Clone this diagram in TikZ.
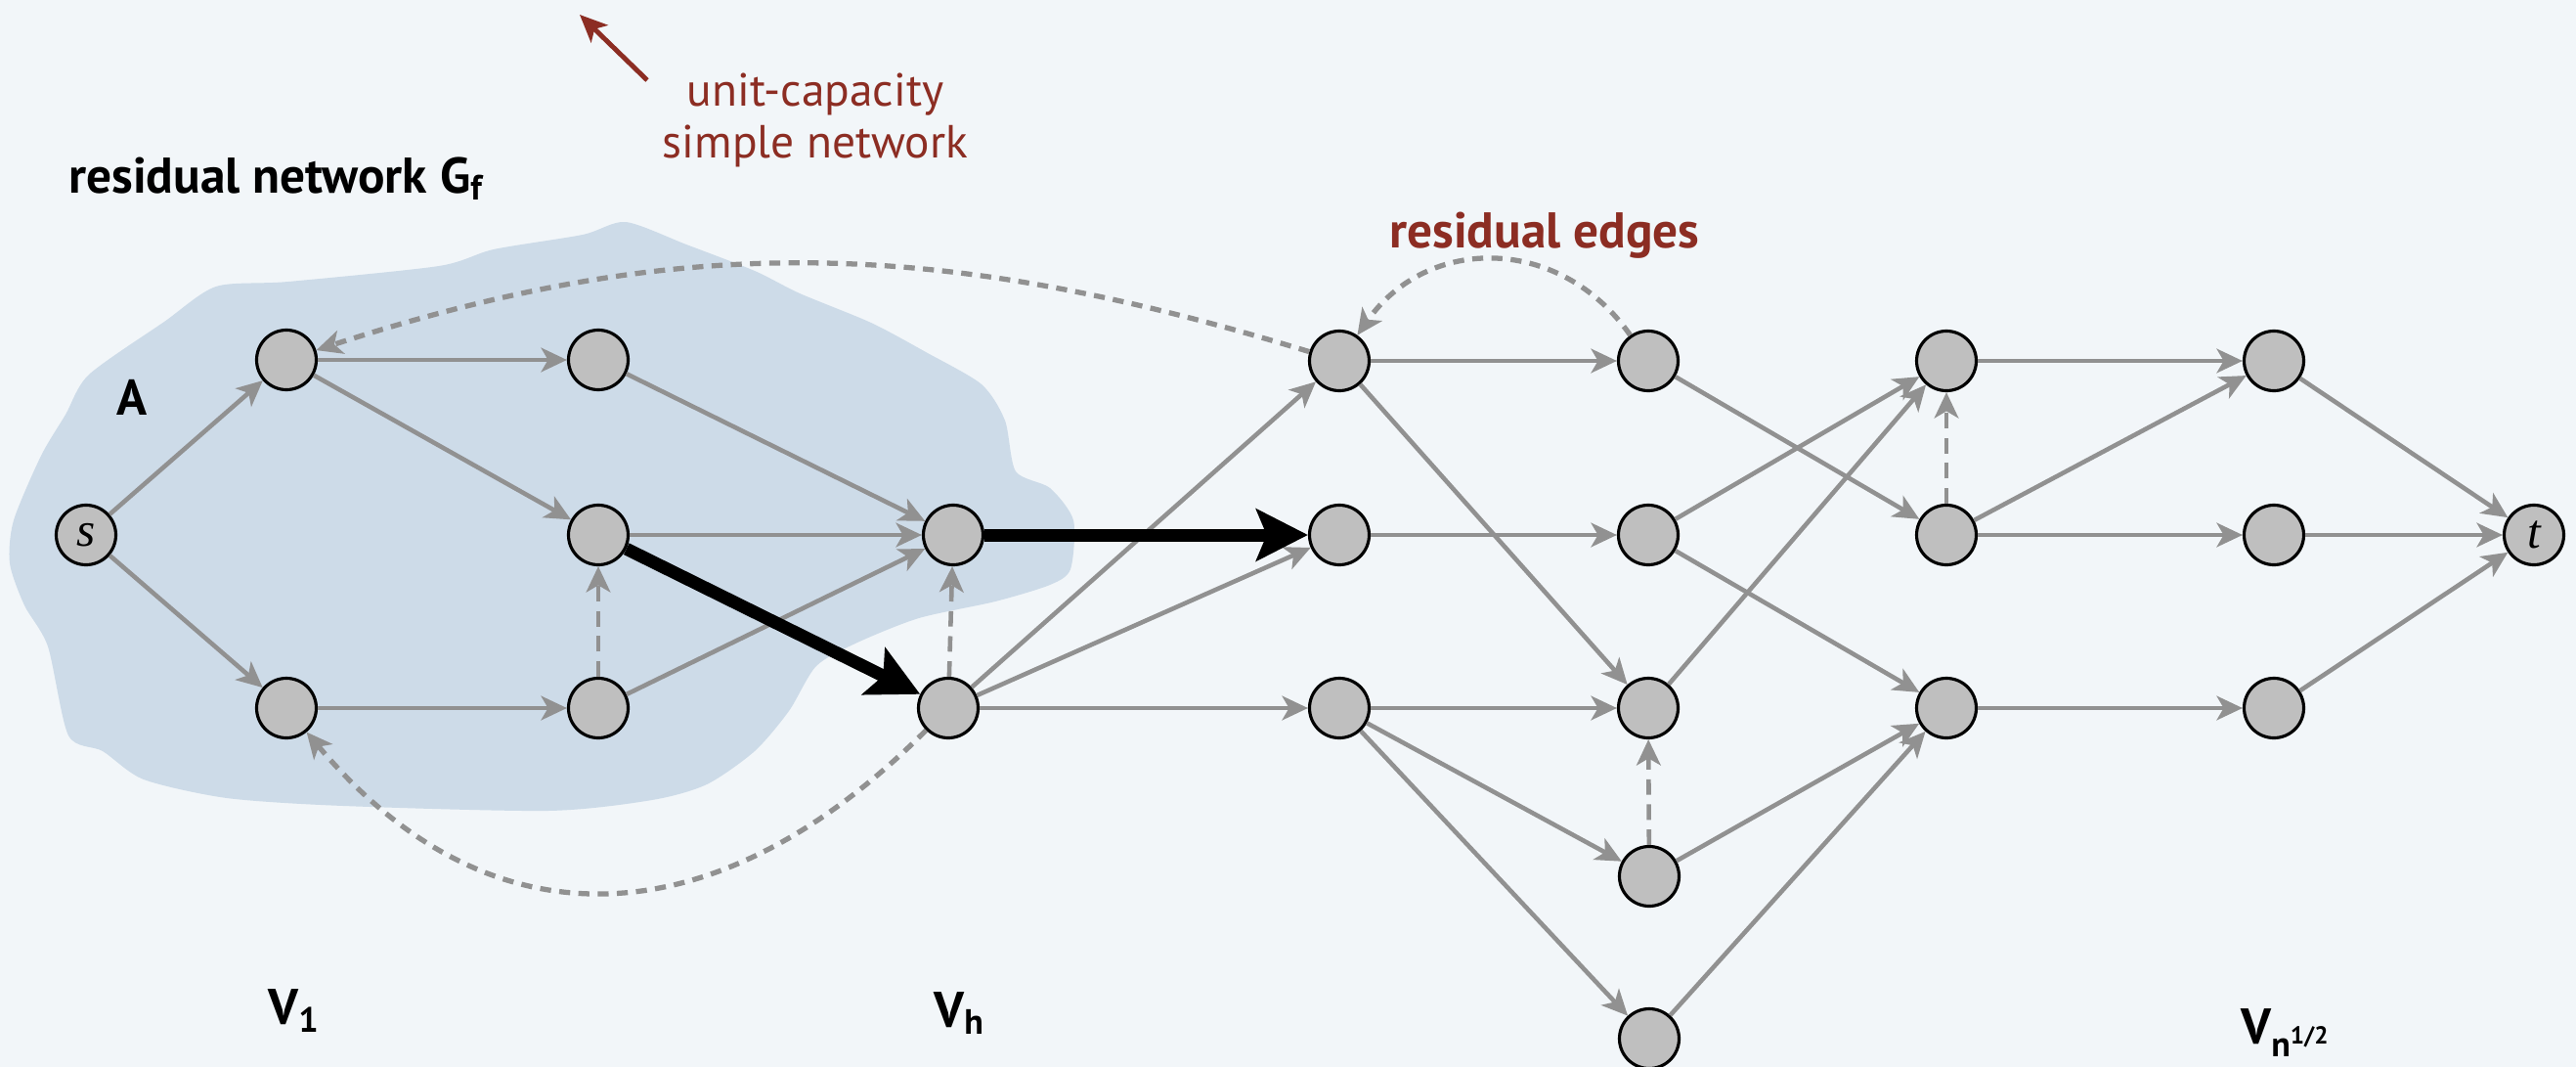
\documentclass[tikz,border=0pt]{standalone}
\usepackage{fontspec}
\setmainfont{PT Sans}
\newfontfamily\vtxfont{Liberation Serif}
\usetikzlibrary{arrows.meta}

\definecolor{bgcol}{RGB}{242,246,249}
\definecolor{blobcol}{RGB}{205,219,232}
\definecolor{nodegray}{RGB}{191,191,191}
\definecolor{edgegray}{RGB}{145,145,145}
\definecolor{redtext}{RGB}{140,45,35}

\begin{document}
\begin{tikzpicture}[x=1cm,y=1cm,
    vtx/.style={circle, draw=black, line width=0.9pt, fill=nodegray,
                minimum size=0.61cm, inner sep=0pt,
                font=\vtxfont\itshape\fontsize{14}{16}\selectfont},
    flow/.style={draw=edgegray, line width=1.3pt,
                 -{Stealth[length=7.5pt,width=7pt,inset=2pt]}},
    resflow/.style={flow, line width=1.5pt, dash pattern=on 3.2pt off 2.4pt},
    resvert/.style={flow, dash pattern=on 4.5pt off 2.8pt},
    aug/.style={draw=black, line width=3.7pt,
                -{Stealth[length=15pt,width=15pt,inset=3pt]}},
    lbl/.style={font=\bfseries\fontsize{14.6}{17}\selectfont},
    redlbl/.style={text=redtext, font=\fontsize{13.5}{15.2}\selectfont}]

    % --- arka plan ---
    \fill[bgcol] (0,0) rectangle (26.35,-10.91);
    \useasboundingbox (0,0) rectangle (26.35,-10.91);

    % --- A kümesi (bulut) ---
    \fill[blobcol] plot[smooth cycle, tension=0.45] coordinates {
        (2.21,-2.93) (2.95,-2.88) (4.49,-2.72) (5.05,-2.55) (5.96,-2.40)
        (6.40,-2.27) (7.02,-2.50) (7.72,-2.77) (8.18,-3.00) (8.91,-3.30)
        (9.47,-3.60) (10.04,-3.93) (10.28,-4.30) (10.39,-4.82) (10.74,-4.99)
        (10.98,-5.32) (10.95,-5.82) (10.74,-5.98) (10.18,-6.15) (9.40,-6.32)
        (8.77,-6.57) (8.35,-6.81) (8.07,-7.27) (7.72,-7.68) (7.23,-8.02)
        (6.67,-8.18) (5.61,-8.29) (3.51,-8.24) (2.32,-8.16) (1.47,-7.97)
        (1.05,-7.68) (0.70,-7.52) (0.49,-6.61) (0.25,-6.19) (0.10,-5.76)
        (0.14,-5.32) (0.42,-4.66) (0.67,-4.24) (0.91,-3.83) (1.68,-3.29)};

    % --- dugumler ---
    \node[vtx] (s)   at (0.88,-5.47) {s};
    \node[vtx] (a1)  at (2.93,-3.68) {};
    \node[vtx] (a2)  at (2.93,-7.24) {};
    \node[vtx] (b1)  at (6.12,-3.68) {};
    \node[vtx] (b2)  at (6.12,-5.47) {};
    \node[vtx] (b3)  at (6.12,-7.24) {};
    \node[vtx] (h1)  at (9.75,-5.47) {};
    \node[vtx] (h2)  at (9.70,-7.24) {};
    \node[vtx] (c1)  at (13.70,-3.69) {};
    \node[vtx] (c2)  at (13.70,-5.47) {};
    \node[vtx] (c3)  at (13.70,-7.24) {};
    \node[vtx] (d1)  at (16.86,-3.69) {};
    \node[vtx] (d2)  at (16.86,-5.47) {};
    \node[vtx] (d3)  at (16.86,-7.24) {};
    \node[vtx] (d4)  at (16.87,-8.96) {};
    \node[vtx] (d5)  at (16.87,-10.62) {};
    \node[vtx] (e1)  at (19.91,-3.69) {};
    \node[vtx] (e2)  at (19.91,-5.47) {};
    \node[vtx] (e3)  at (19.91,-7.24) {};
    \node[vtx] (f1)  at (23.26,-3.69) {};
    \node[vtx] (f2)  at (23.26,-5.47) {};
    \node[vtx] (f3)  at (23.26,-7.24) {};
    \node[vtx] (t)   at (25.92,-5.47) {t};

    % --- kenarlar ---
    \draw[flow] (s) -- (a1);
    \draw[flow] (s) -- (a2);
    \draw[flow] (a1) -- (b1);
    \draw[flow] (a1) -- (b2);
    \draw[flow] (a2) -- (b3);
    \draw[flow] (b1) -- (h1);
    \draw[flow] (b2) -- (h1);
    \draw[flow] (b3) -- (h1);
    \draw[flow] (h2) -- (c1);
    \draw[flow] (h2) -- (c2);
    \draw[flow] (h2) -- (c3);
    \draw[flow] (c1) -- (d1);
    \draw[flow] (c1) -- (d3);
    \draw[flow] (c2) -- (d2);
    \draw[flow] (c3) -- (d3);
    \draw[flow] (c3) -- (d4);
    \draw[flow] (c3) -- (d5);
    \draw[flow] (d1) -- (e2);
    \draw[flow] (d2) -- (e1);
    \draw[flow] (d2) -- (e3);
    \draw[flow] (d3) -- (e1);
    \draw[flow] (d4) -- (e3);
    \draw[flow] (d5) -- (e3);
    \draw[flow] (e1) -- (f1);
    \draw[flow] (e2) -- (f1);
    \draw[flow] (e2) -- (f2);
    \draw[flow] (e3) -- (f3);
    \draw[flow] (f1) -- (t);
    \draw[flow] (f2) -- (t);
    \draw[flow] (f3) -- (t);

    % --- artik kenarlar (kesikli) ---
    \draw[resvert] (b3) -- (b2);
    \draw[resvert] (h2) -- (h1);
    \draw[resvert] (d4) -- (d3);
    \draw[resvert] (e2) -- (e1);
    \draw[resflow] (h2) to[out=225, in=-50, looseness=1.2] (a2);
    \draw[resflow] (c1) to[out=163, in=18] (a1);
    \draw[resflow] (d1) to[out=125, in=55, looseness=1.15] (c1);

    % --- artiran yol ---
    \draw[aug] (b2) -- (h2);
    \draw[aug] (h1) -- (c2);

    % --- etiketler ---
    \node[lbl, anchor=base west] (gf) at (0.58,-1.97) {residual network G\textsubscript{f}};
    \node[lbl] (lA) at (1.35,-4.06) {A};
    \node[lbl, text=redtext, anchor=base] (lres) at (15.80,-2.53) {residual edges};
    \node[redlbl, align=center] (lunit) at (8.34,-1.23) {unit-capacity\\simple network};
    \coordinate (ucTail) at (6.62,-0.82);
    \coordinate (ucTip) at (5.93,-0.15);
    \draw[redtext, line width=1.4pt, -{Stealth[length=8pt,width=7pt,inset=2pt]}] (ucTail) -- (ucTip);

    \node[lbl, anchor=base west] (v1) at (2.62,-10.47) {V\textsubscript{1}};
    \node[lbl, anchor=base west] (vh) at (9.43,-10.50) {V\textsubscript{h}};
    \node[lbl, anchor=base west] (vn) at (22.80,-10.67) {V\textsubscript{n\textsuperscript{1/2}}};

\end{tikzpicture}
\end{document}
